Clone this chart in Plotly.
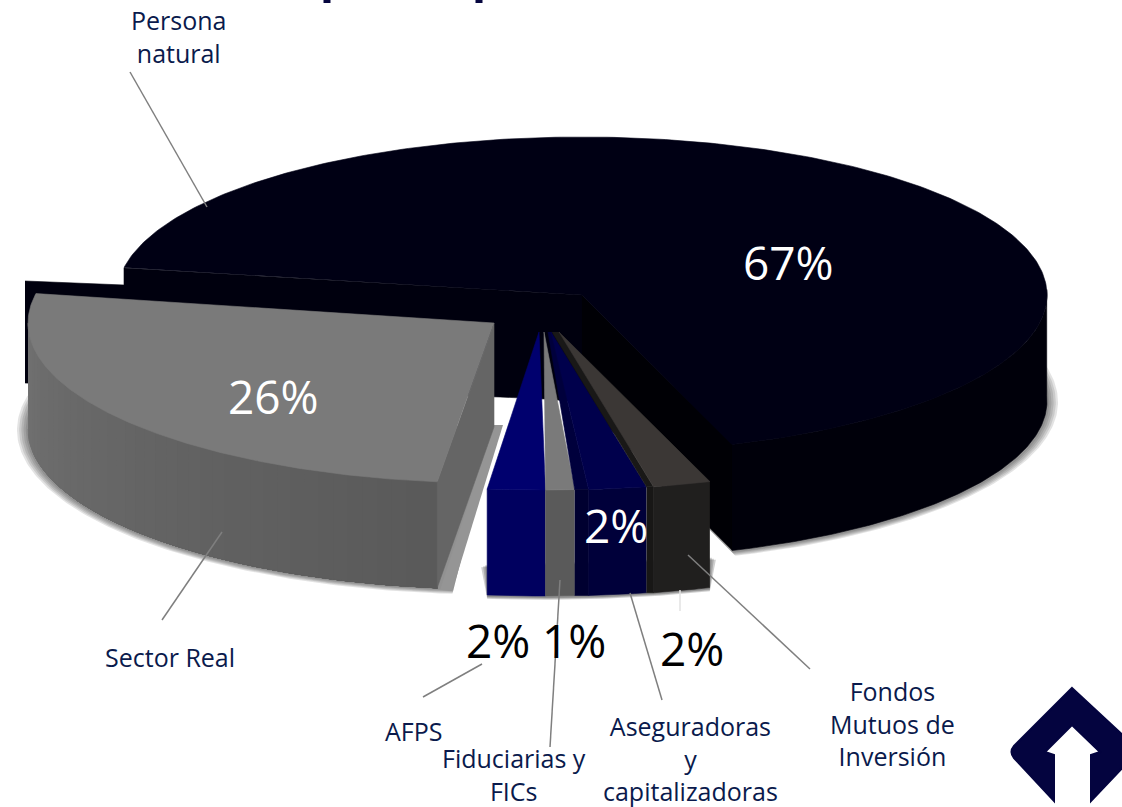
import numpy as np
import plotly.graph_objects as go

# ---- data ----
categories = ["Persona natural", "Fondos Mutuos de Inversión", "Aseguradoras y capitalizadoras",
              "Fiduciarias y FICs", "AFPS", "Sector Real"]
values = [67, 2, 2, 1, 2, 26]

label_lines = [["Persona", "natural"], ["Fondos", "Mutuos de", "Inversión"],
               ["Aseguradoras", "y", "capitalizadoras"], ["Fiduciarias y", "FICs"],
               ["AFPS"], ["Sector Real"]]

# ---- layout constants (pixels of the 1122x807 page) ----
W, H = 1122, 807
A, B = 465, 158
DEPTH = 106
START_ANGLE = 170
NAVY = "#0a1a4c"
LABEL_POS = [(178, 36.5), (892, 723.5), (690, 758), (514, 774.5), (413, 731), (170, 657)]
PCT_POS = [(788, 262), (692, 648), (616, 525), (574, 640), (498, 640), (273, 396)]
PCT_COL = ["white", "black", "white", "black", "black", "white"]
LEADERS = [((130, 72), (207, 207)), ((688, 555), (810, 669)), ((630, 593), (662, 700)),
           ((560, 580), (550, 747)), ((482, 664), (423, 697)), ((222, 532), (162, 620))]

fig = go.Figure()


def poly(x, y, color, line=None):
    fig.add_trace(go.Scatter(x=list(x), y=list(y), mode="lines", fill="toself", fillcolor=color,
                             line=dict(color=line or color, width=0.6), hoverinfo="skip",
                             showlegend=False))


def arc(cx, cy, t0, t1, a=A, b=B, n=120):
    t = np.radians(np.linspace(t0, t1, n))
    return cx + a * np.cos(t), cy - b * np.sin(t)


def shadow(cx, cy, t0, t1, a=A, b=B):
    for k in (5, 4, 3, 2, 1):
        x, y = arc(cx, cy + DEPTH + 1, t0, t1, a + k * 2.2, b + k * 0.9)
        poly(np.r_[x, cx], np.r_[y, cy + DEPTH], "rgba(40,40,40,0.13)", "rgba(0,0,0,0)")


# spans of each slice, clockwise from the start angle
spans = [v * 3.6 for v in values]
edges = START_ANGLE - np.cumsum([0] + spans)

# ---- Persona natural (large slice) ----
cx, cy = 582, 295
t0, t1 = edges[0], edges[1]
shadow(cx, cy, 25, t1)
wx = [25, 124, 124, cx, cx, 545, 500, 25]
wy = [281, 285, 268, cy, cy + DEPTH + 1, 399, 397, 383]
poly(wx, wy, "#00000e")
poly([cx, cx + 150, cx + 150, cx], [cy, cy + 149, cy + 149 + DEPTH, cy + DEPTH], "#000005")
sx, sy = arc(cx, cy, t1, 2)
poly(np.r_[sx, sx[::-1]], np.r_[sy, sy[::-1] + DEPTH], "#00000a")
tx, ty = arc(cx, cy, t0, t1, n=300)
poly(np.r_[cx, tx, cx], np.r_[cy, ty, cy], "#000014")

# ---- Sector Real ----
cx, cy = 494, 323
a2, b2 = 466, 160
t_end = -97
t_start = t_end - spans[5]
shadow(cx, cy, -192, t_end + 2, a2, b2)
poly([cx, cx + 9, cx - 42, cx - 54], [cy + 102, cy + 102, cy + 268, cy + 267], "#959595", "rgba(0,0,0,0)")
n_strips = 44
tt = np.linspace(-180, t_end, n_strips + 1)
for i in range(n_strips):
    x, y = arc(cx, cy, tt[i], t_end, a2, b2, n=60)
    f = i / (n_strips - 1)
    g = int(round(0x72 + (0x5a - 0x72) * f ** 0.8))
    poly(np.r_[x, x[::-1]], np.r_[y, y[::-1] + DEPTH], f"rgb({g},{g},{g})")
ex, ey = arc(cx, cy, t_end, t_end, a2, b2, n=1)
poly([cx, cx, ex[0], ex[0]], [cy, cy + 104, ey[0] + DEPTH, ey[0]], "#656565")
tx, ty = arc(cx, cy, t_start, t_end, a2, b2, n=200)
poly(np.r_[cx, tx, cx], np.r_[cy, ty, cy], "#7a7a7a")

# ---- small exploded slices (AFPS, Fiduciarias, Aseguradoras, Fondos) ----
rim_cx, rim_cy = 539, 332
small = [
    # index, apex x, wall apex x, rim shift, wall width, top, side, wall top, wall side
    (4, 539, 539, 0, 0, "#00006e", "#00005f", None, None),
    (3, 544, 544, 0, 0, "#7a7a7a", "#5a5a5a", None, None),
    (2, 551, 548, 14, 14, "#00004c", "#00003a", "#00003c", "#000030"),
    (1, 559, 552, 21, 7, "#3b3735", "#201f1e", "#191817", "#181716"),
]
gx, gy = arc(rim_cx, rim_cy + 1, edges[5], edges[1], n=40)
gx = gx + np.linspace(0, 21, 40)
for k in (3, 2, 1):
    poly(np.r_[gx[0] - k * 2, gx, gx[-1] + k * 2],
         np.r_[gy[0] + k + DEPTH * 0.7, gy + DEPTH + k * 0.9, gy[-1] + k + DEPTH * 0.7],
         "rgba(40,40,40,0.22)", "rgba(0,0,0,0)")
for idx, apex_x, wall_apex, shift, wall, top, side, wtop, wside in small:
    t_a, t_b = edges[idx], edges[idx + 1]
    x, y = arc(rim_cx + shift, rim_cy, t_a, t_b, n=20)
    apex_y = rim_cy
    if wall:
        poly([wall_apex, x[-1] - wall, x[-1], apex_x], [apex_y, y[-1], y[-1], apex_y], wtop)
        poly([x[-1] - wall, x[-1], x[-1], x[-1] - wall],
             [y[-1], y[-1], y[-1] + DEPTH, y[-1] + DEPTH], wside)
    poly(np.r_[x, x[::-1]], np.r_[y, y[::-1] + DEPTH], side)
    poly(np.r_[apex_x, x, apex_x], np.r_[apex_y, y, apex_y], top)

# faint line under the Fondos slice
shapes = [dict(type="line", x0=680, y0=590, x1=680, y1=611, line=dict(color="#e2e2e2", width=1.5))]
for (p, q) in LEADERS:
    shapes.append(dict(type="line", x0=p[0], y0=p[1], x1=q[0], y1=q[1],
                       line=dict(color="#7f7f7f", width=1.5)))

# descender marks of the page title that is cut off at the top edge
for mark_x in (327, 479):
    shapes.append(dict(type="rect", x0=mark_x - 3.5, x1=mark_x + 3.5, y0=0, y1=3,
                       fillcolor="#06063f", line=dict(width=0)))

# logo, bottom right
logo = ("M 1072 688 L 1126 738 L 1126 764 L 1091 801 L 1091 755 L 1100 752 L 1072 725 L 1045 752 "
        "L 1054 755 L 1054 801 L 1014 758 Q 1009 752 1014 746 Z")
shapes.append(dict(type="path", path=logo, fillcolor="#04043f", line=dict(color="#04043f", width=2)))

annotations = []
for lines, (x, y) in zip(label_lines, LABEL_POS):
    annotations.append(dict(x=x, y=y, text="<br>".join(lines), showarrow=False, align="center",
                            xanchor="center", yanchor="middle",
                            font=dict(family="Open Sans", size=25, color=NAVY)))
for v, (x, y), col in zip(values, PCT_POS, PCT_COL):
    annotations.append(dict(x=x, y=y, text=f"{v}%", showarrow=False, xanchor="center", yanchor="middle",
                            font=dict(family="Open Sans", size=46, color=col)))

fig.update_layout(
    width=W, height=H, margin=dict(l=0, r=0, t=0, b=0), paper_bgcolor="white", plot_bgcolor="white",
    xaxis=dict(range=[0, W], visible=False, fixedrange=True),
    yaxis=dict(range=[H, 0], visible=False, fixedrange=True),
    shapes=shapes, annotations=annotations, showlegend=False,
)
fig.write_html("out.html", config={"displayModeBar": False},
               post_script="document.body.style.margin='0';document.body.style.overflow='hidden';")
